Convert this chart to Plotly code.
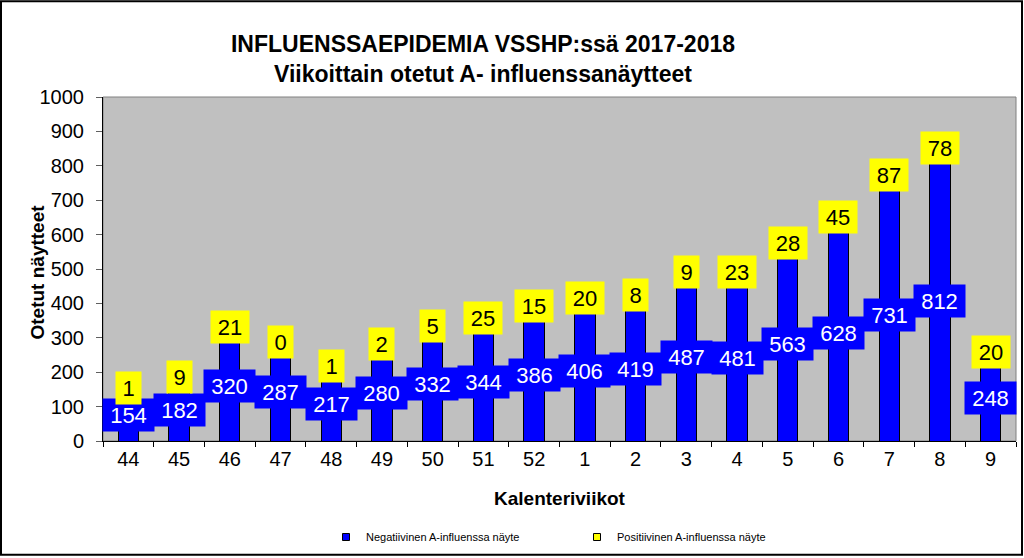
import plotly.graph_objects as go

# ---- data ----
weeks = ["44", "45", "46", "47", "48", "49", "50", "51", "52",
         "1", "2", "3", "4", "5", "6", "7", "8", "9"]
negative = [154, 182, 320, 287, 217, 280, 332, 344, 386,
            406, 419, 487, 481, 563, 628, 731, 812, 248]
positive = [1, 9, 21, 0, 1, 2, 5, 25, 15,
            20, 8, 9, 23, 28, 45, 87, 78, 20]
y_ticks = list(range(0, 1001, 100))

title_text = "INFLUENSSAEPIDEMIA VSSHP:ssä 2017-2018<br>Viikoittain otetut A- influenssanäytteet"
x_title = "Kalenteriviikot"
y_title = "Otetut näytteet"
neg_name = "Negatiivinen A-influenssa näyte"
pos_name = "Positiivinen A-influenssa näyte"

# ---- layout constants ----
W, H = 1024, 558
ML, MR, MT, MB = 103, 8, 97, 116
PW, PH = W - ML - MR, H - MT - MB
BLUE, YELLOW, BG = "#0000FF", "#FFFF00", "#C0C0C0"
FONT = "Liberation Sans, Arial, sans-serif"


def px_to_paper_x(px):
    return (px - ML) / PW


def px_to_paper_y(py):
    return (H - MB - py) / PH


fig = go.Figure()
fig.add_trace(go.Bar(x=weeks, y=negative, name=neg_name, showlegend=False,
                     marker=dict(color=BLUE, line=dict(color="black", width=1))))
fig.add_trace(go.Bar(x=weeks, y=positive, name=pos_name, showlegend=False,
                     marker=dict(color=YELLOW, line=dict(color="black", width=1))))

# legend-only markers
fig.add_trace(go.Scatter(x=[None], y=[None], mode="markers", name=neg_name,
                         legend="legend",
                         marker=dict(symbol="square", size=7, color=BLUE,
                                     line=dict(color="black", width=1))))
fig.add_trace(go.Scatter(x=[None], y=[None], mode="markers", name=pos_name,
                         legend="legend2",
                         marker=dict(symbol="square", size=7, color=YELLOW,
                                     line=dict(color="black", width=1))))

annotations = []
for i, (n, p) in enumerate(zip(negative, positive)):
    t = str(n)
    annotations.append(dict(x=i, y=n / 2, xref="x", yref="y", text=t,
                            showarrow=False, bgcolor=BLUE,
                            font=dict(color="white", size=22, family=FONT),
                            width=13 * len(t) + 12, height=32, borderpad=0))
for i, (n, p) in enumerate(zip(negative, positive)):
    t = str(p)
    annotations.append(dict(x=i, y=n + p / 2, xref="x", yref="y", text=t,
                            showarrow=False, bgcolor=YELLOW,
                            font=dict(color="black", size=22, family=FONT),
                            width=13 * len(t) + 12, height=32, borderpad=0))

# y-axis title
annotations.append(dict(x=px_to_paper_x(37), y=px_to_paper_y(273), xref="paper", yref="paper",
                        text=y_title, textangle=-90, showarrow=False,
                        xanchor="center", yanchor="middle",
                        font=dict(size=19, family=FONT, color="black", weight="bold")))
# x-axis title
annotations.append(dict(x=0.5, y=px_to_paper_y(500), xref="paper", yref="paper",
                        text=x_title, showarrow=False,
                        xanchor="center", yanchor="middle",
                        font=dict(size=19, family=FONT, color="black", weight="bold")))

shapes = [
    dict(type="rect", xref="paper", yref="paper", x0=0, x1=1, y0=0, y1=1,
         line=dict(color="#808080", width=1), layer="below"),
    dict(type="rect", xref="paper", yref="paper",
         x0=px_to_paper_x(1), x1=px_to_paper_x(1022),
         y0=px_to_paper_y(556), y1=px_to_paper_y(1),
         line=dict(color="black", width=2)),
]

legend_common = dict(orientation="h", font=dict(size=11, family=FONT, color="black"),
                     bgcolor="rgba(0,0,0,0)", borderwidth=0,
                     xanchor="left", yanchor="middle", itemwidth=30)

fig.update_layout(
    width=W, height=H,
    margin=dict(l=ML, r=MR, t=MT, b=MB),
    paper_bgcolor="white", plot_bgcolor=BG,
    barmode="stack", bargap=0.6,
    font=dict(family=FONT, color="black"),
    title=dict(text=title_text, x=483 / W, xanchor="center",
               y=1 - 52 / H, yanchor="middle",
               font=dict(size=23, family=FONT, color="black", weight="bold")),
    xaxis=dict(type="category", categoryorder="array", categoryarray=weeks,
               range=[-0.5, len(weeks) - 0.5], autorange=False,
               showline=True, linecolor="black", linewidth=1,
               ticks="outside", tickson="boundaries", ticklen=5, tickcolor="black",
               tickangle=0,
               tickfont=dict(size=20, family=FONT, color="black"),
               showgrid=False, zeroline=False),
    yaxis=dict(range=[0, 1000], autorange=False,
               tickvals=y_ticks, ticktext=[str(v) for v in y_ticks],
               showline=True, linecolor="black", linewidth=1,
               ticks="outside", ticklen=6, tickcolor="#606060",
               tickfont=dict(size=20, family=FONT, color="black"),
               ticklabelstandoff=8,
               showgrid=False, zeroline=False),
    legend=dict(x=px_to_paper_x(326), y=px_to_paper_y(537), **legend_common),
    legend2=dict(x=px_to_paper_x(577), y=px_to_paper_y(537), **legend_common),
    annotations=annotations,
    shapes=shapes,
)

fig.write_html("out.html", config={"displayModeBar": False},
               post_script="document.body.style.margin='0';document.body.style.overflow='hidden';")
